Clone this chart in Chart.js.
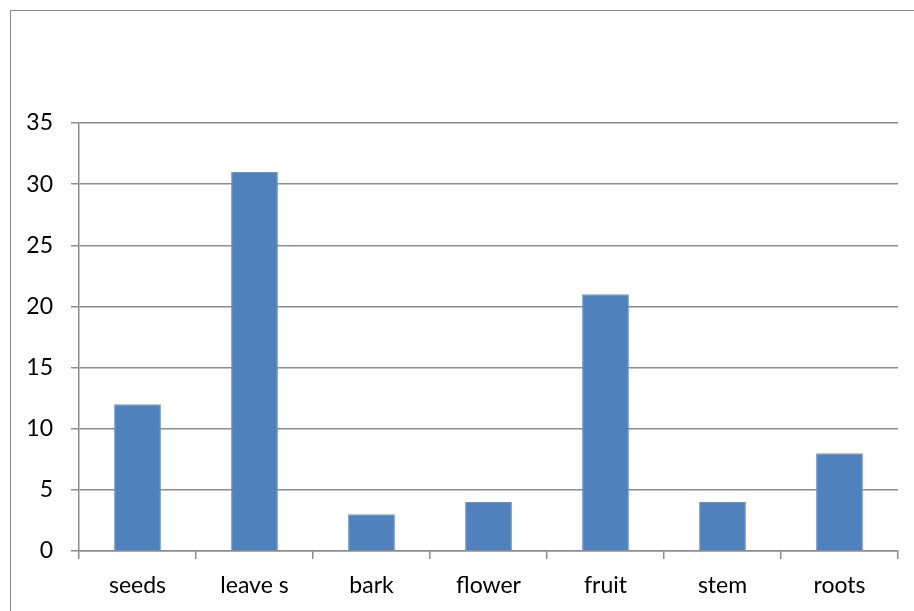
<!DOCTYPE html>
<html>
<head>
<meta charset="utf-8">
<script src="https://cdn.jsdelivr.net/npm/chart.js@4/dist/chart.umd.min.js"></script>
<style>
  html, body { margin: 0; padding: 0; background: #fff; overflow: hidden; }
  #wrap { position: relative; width: 914px; height: 611px; }
  #frame { position: absolute; left: 10px; top: 10px; width: 940px; height: 640px;
           border: 1px solid #8a8a8a; box-sizing: border-box; pointer-events: none; }
  canvas { position: absolute; left: 0; top: 0; }
</style>
</head>
<body>
<div id="wrap">
  <canvas id="c" width="914" height="611"></canvas>
  <div id="frame"></div>
</div>
<script>
// Plant parts and their counts
const categories = ['seeds', 'leave s', 'bark', 'flower', 'fruit', 'stem', 'roots'];
const counts = [12, 31, 3, 4, 21, 4, 8];
const yTicks = [0, 5, 10, 15, 20, 25, 30, 35];

const gridColor = '#8c8c8c';
const font = { family: 'Lato, "Open Sans", sans-serif', size: 23 };

new Chart(document.getElementById('c'), {
  type: 'bar',
  data: {
    labels: categories,
    datasets: [{
      data: counts,
      backgroundColor: '#4f81bd',
      borderColor: '#6b98cc',
      borderWidth: 1,
      categoryPercentage: 0.4,
      barPercentage: 1.0
    }]
  },
  options: {
    responsive: false,
    animation: false,
    layout: { padding: { left: 0, right: 16, top: 123, bottom: 0 } },
    plugins: { legend: { display: false }, tooltip: { enabled: false } },
    scales: {
      x: {
        offset: true,
        grid: { offset: true, drawOnChartArea: false, color: gridColor, lineWidth: 1.5, tickLength: 8 },
        border: { color: gridColor, width: 1.5 },
        ticks: { color: '#000', font: font, padding: 13, maxRotation: 0 },
        afterFit: s => { s.height = 60; }
      },
      y: {
        min: 0, max: 35,
        afterBuildTicks: s => { s.ticks = yTicks.map(v => ({ value: v })); },
        grid: { color: gridColor, lineWidth: 1.5, tickLength: 8 },
        border: { color: gridColor, width: 1.5 },
        ticks: { color: '#000', font: font, padding: 18 },
        afterFit: s => { s.width = 79; }
      }
    }
  }
});
</script>
</body>
</html>
